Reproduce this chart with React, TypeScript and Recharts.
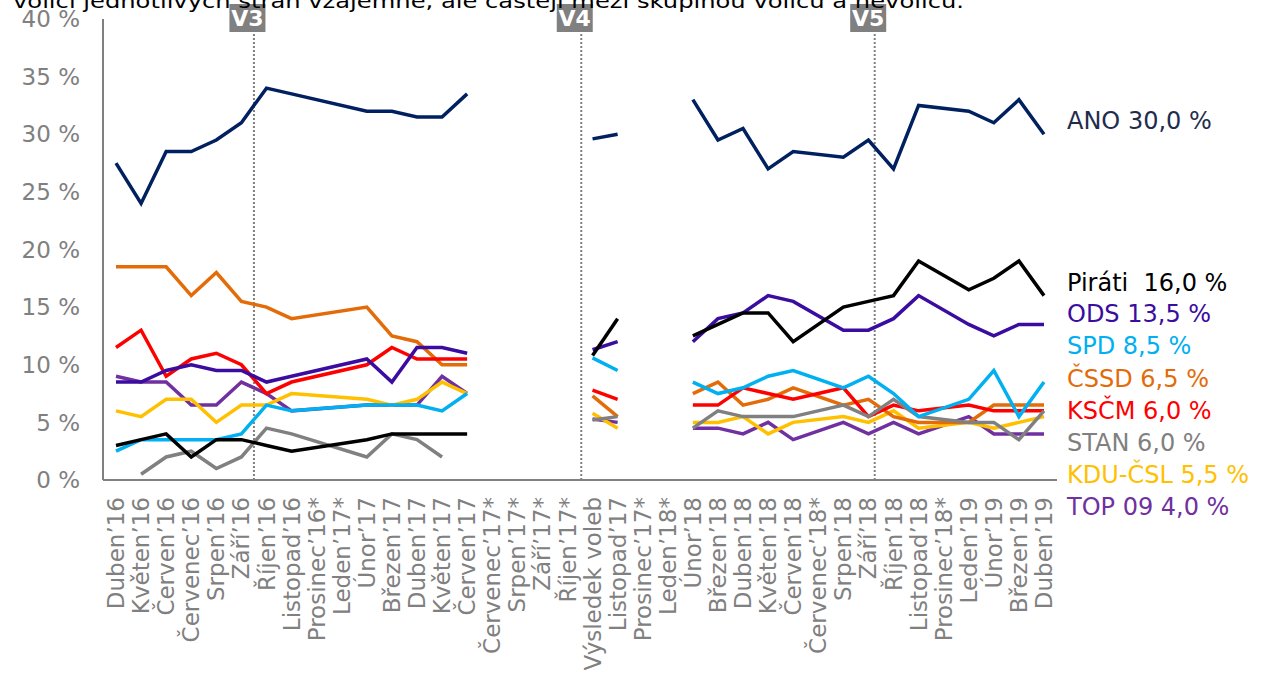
import React from "react";
import { LineChart, Line, XAxis, YAxis, ReferenceLine } from "recharts";

const categories = [
  "Duben’16", "Květen’16", "Červen’16", "Červenec’16", "Srpen’16", "Září’16", "Říjen’16",
  "Listopad’16", "Prosinec’16*", "Leden’17*", "Únor’17", "Březen’17", "Duben’17", "Květen’17",
  "Červen’17", "Červenec’17*", "Srpen’17*", "Září’17*", "Říjen’17*", "Výsledek voleb",
  "Listopad’17", "Prosinec’17*", "Leden’18*", "Únor’18", "Březen’18", "Duben’18", "Květen’18",
  "Červen’18", "Červenec’18*", "Srpen’18", "Září’18", "Říjen’18", "Listopad’18", "Prosinec’18*",
  "Leden’19", "Únor’19", "Březen’19", "Duben’19",
];

const n = null;
const ano = [27.5, 24, 28.5, 28.5, 29.5, 31, 34, 33.5, n, n, 32, 32, 31.5, 31.5, 33.5, n, n, n, n, 29.6, 30, n, n, 33, 29.5, 30.5, 27, 28.5, n, 28, 29.5, 27, 32.5, n, 32, 31, 33, 30];
const pirati = [3, 3.5, 4, 2, 3.5, 3.5, 3, 2.5, n, n, 3.5, 4, 4, 4, 4, n, n, n, n, 10.8, 14, n, n, 12.5, 13.5, 14.5, 14.5, 12, n, 15, 15.5, 16, 19, n, 16.5, 17.5, 19, 16];
const ods = [8.5, 8.5, 9.5, 10, 9.5, 9.5, 8.5, 9, n, n, 10.5, 8.5, 11.5, 11.5, 11, n, n, n, n, 11.3, 12, n, n, 12, 14, 14.5, 16, 15.5, n, 13, 13, 14, 16, n, 13.5, 12.5, 13.5, 13.5];
const spd = [2.5, 3.5, 3.5, 3.5, 3.5, 4, 6.5, 6, n, n, 6.5, 6.5, 6.5, 6, 7.5, n, n, n, n, 10.6, 9.5, n, n, 8.5, 7.5, 8, 9, 9.5, n, 8, 9, 7.5, 5.5, n, 7, 9.5, 5.5, 8.5];
const cssd = [18.5, 18.5, 18.5, 16, 18, 15.5, 15, 14, n, n, 15, 12.5, 12, 10, 10, n, n, n, n, 7.3, 5.5, n, n, 7.5, 8.5, 6.5, 7, 8, n, 6.5, 7, 5.5, 5, n, 5, 6.5, 6.5, 6.5];
const kscm = [11.5, 13, 9, 10.5, 11, 10, 7.5, 8.5, n, n, 10, 11.5, 10.5, 10.5, 10.5, n, n, n, n, 7.8, 7, n, n, 6.5, 6.5, 8, 7.5, 7, n, 8, 5.5, 6.5, 6, n, 6.5, 6, 6, 6];
const stan = [n, 0.5, 2, 2.5, 1, 2, 4.5, 4, n, n, 2, 4, 3.5, 2, n, n, n, n, n, 5.2, 5.5, n, n, 4.5, 6, 5.5, 5.5, 5.5, n, 6.5, 5.5, 7, 5.5, n, 5, 5, 3.5, 6];
const kdu = [6, 5.5, 7, 7, 5, 6.5, 6.5, 7.5, n, n, 7, 6.5, 7, 8.5, 7.5, n, n, n, n, 5.8, 4.5, n, n, 5, 5, 5.5, 4, 5, n, 5.5, 5, 6, 4.5, n, 5, 4.5, 5, 5.5];
const top09 = [9, 8.5, 8.5, 6.5, 6.5, 8.5, 7.5, 6, n, n, 6.5, 6.5, 6.5, 9, 7.5, n, n, n, n, 5.3, 5, n, n, 4.5, 4.5, 4, 5, 3.5, n, 5, 4, 5, 4, n, 5.5, 4, 4, 4];

const yTicks = [0, 5, 10, 15, 20, 25, 30, 35, 40];
const segments = [[0, 14], [19, 20], [23, 37]];
const waves = [
  { name: "V3", pos: 5.5 },
  { name: "V4", pos: 18.55 },
  { name: "V5", pos: 30.25 },
];

// draw order (bottom to top)
const parties = [
  { key: "top09", name: "TOP 09", values: top09, color: "#7030a0", text: "#7030a0" },
  { key: "kdu", name: "KDU-ČSL", values: kdu, color: "#ffc000", text: "#ffc000" },
  { key: "cssd", name: "ČSSD", values: cssd, color: "#e36c09", text: "#e36c09" },
  { key: "kscm", name: "KSČM", values: kscm, color: "#ff0000", text: "#ff0000" },
  { key: "stan", name: "STAN", values: stan, color: "#808080", text: "#808080" },
  { key: "spd", name: "SPD", values: spd, color: "#00b0f0", text: "#00b0f0" },
  { key: "ods", name: "ODS", values: ods, color: "#3a0ca0", text: "#3a0ca0" },
  { key: "pirati", name: "Piráti ", values: pirati, color: "#000000", text: "#000000" },
  { key: "ano", name: "ANO", values: ano, color: "#002060", text: "#1f2d4d" },
];

// legend label layout (order top to bottom)
const legendOrder = ["ano", "pirati", "ods", "spd", "cssd", "kscm", "stan", "kdu", "top09"];
const legendY = [121, 283, 314, 346, 379, 411, 443, 475, 507];

const data = categories.map((cat, idx) => {
  const row: any = { cat, idx };
  parties.forEach((p) => {
    row[p.key] = p.values[idx];
  });
  return row;
});

const FONT = "DejaVu Sans, Verdana, sans-serif";

const XTick = (props: any) => {
  const { x, y, payload } = props;
  return (
    <text
      x={x}
      y={y}
      transform={`rotate(-90 ${x} ${y})`}
      textAnchor="end"
      dy="0.35em"
      fill="#808080"
      fontSize={23}
      fontFamily={FONT}
    >
      {payload.value}
    </text>
  );
};

const WaveLabel = (props: any) => {
  const { viewBox, text } = props;
  const x = viewBox ? viewBox.x : 0;
  const cx = x - 6.5;
  return (
    <g>
      <rect x={cx - 18} y={4} width={36} height={28} fill="#808080" />
      <text
        x={cx}
        y={26}
        textAnchor="middle"
        fill="#ffffff"
        fontWeight="bold"
        fontSize={22}
        fontFamily={FONT}
      >
        {text}
      </text>
    </g>
  );
};

const fmt = (v: number) => v.toFixed(1).replace(".", ",") + " %";

export default function App() {
  const lastVal = (p: any) => {
    for (let i = p.values.length - 1; i >= 0; i--) if (p.values[i] != null) return p.values[i];
    return 0;
  };
  return (
    <div
      style={{
        position: "absolute",
        left: 0,
        top: 0,
        width: 1261,
        height: 675,
        overflow: "hidden",
        background: "#ffffff",
        fontFamily: FONT,
      }}
    >
      <LineChart
        width={1261}
        height={675}
        data={data}
        margin={{ top: 19, right: 204, left: 0, bottom: 0 }}
      >
        <XAxis
          dataKey="cat"
          interval={0}
          height={195}
          tick={<XTick />}
          tickLine={false}
          tickSize={0}
          tickMargin={17}
          padding={{ left: 13, right: 13 }}
          axisLine={{ stroke: "#808080", strokeWidth: 2 }}
        />
        <XAxis
          xAxisId="num"
          type="number"
          dataKey="idx"
          domain={[0, 37]}
          hide
          padding={{ left: 13, right: 13 }}
        />
        <YAxis
          width={103}
          domain={[0, 40]}
          ticks={yTicks}
          tickFormatter={(v: number) => `${v} %`}
          tickLine={false}
          tickSize={0}
          tickMargin={23}
          axisLine={{ stroke: "#808080", strokeWidth: 2 }}
          tick={{ fill: "#808080", fontSize: 23, fontFamily: FONT }}
        />
        {waves.map((w) => (
          <ReferenceLine
            key={w.name}
            xAxisId="num"
            x={w.pos}
            stroke="#808080"
            strokeWidth={2}
            strokeDasharray="2 2"
            label={<WaveLabel text={w.name} />}
          />
        ))}
        {parties.map((p) =>
          segments.map(([s, e]) => (
            <Line
              key={`${p.key}-${s}`}
              type="linear"
              dataKey={(d: any) => (d.idx >= s && d.idx <= e ? d[p.key] : null)}
              stroke={p.color}
              strokeWidth={3.5}
              dot={false}
              activeDot={false}
              connectNulls
              isAnimationActive={false}
            />
          ))
        )}
      </LineChart>
      <svg
        width={1261}
        height={675}
        style={{ position: "absolute", left: 0, top: 0, pointerEvents: "none" }}
      >
        <text
          x={13}
          y={8}
          fontSize={20}
          fontFamily={FONT}
          fill="#000000"
          textLength={951}
          lengthAdjust="spacingAndGlyphs"
        >
          voliči jednotlivých stran vzájemně, ale častěji mezi skupinou voličů a nevoličů.
        </text>
        {legendOrder.map((k, i) => {
          const p = parties.find((q) => q.key === k)!;
          return (
            <text
              key={k}
              x={1067}
              y={legendY[i]}
              dy="0.35em"
              fontSize={24}
              fontFamily={FONT}
              fill={p.text}
              style={{ whiteSpace: "pre" }}
            >
              {`${p.name} ${fmt(lastVal(p))}`}
            </text>
          );
        })}
      </svg>
    </div>
  );
}
